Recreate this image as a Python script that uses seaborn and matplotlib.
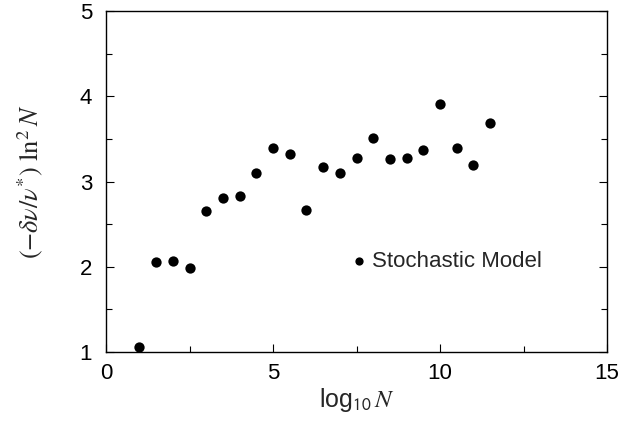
import matplotlib
matplotlib.use("Agg")
import matplotlib.pyplot as plt
import seaborn as sns
import pandas as pd
from matplotlib.ticker import MultipleLocator

# data
log_n = [1.0, 1.5, 2.0, 2.5, 3.0, 3.5, 4.0, 4.5, 5.0, 5.5, 6.0, 6.5,
         7.0, 7.5, 8.0, 8.5, 9.0, 9.5, 10.0, 10.5, 11.0, 11.5]
scaled_shift = [1.06, 2.06, 2.07, 1.98, 2.65, 2.81, 2.83, 3.10, 3.39, 3.32, 2.66, 3.17,
                3.10, 3.27, 3.51, 3.26, 3.27, 3.37, 3.91, 3.39, 3.19, 3.69]

df = pd.DataFrame({"logN": log_n, "shift": scaled_shift})

sns.set_style("white")
plt.rcParams["font.family"] = ["Liberation Sans", "DejaVu Sans"]
plt.rcParams["mathtext.fontset"] = "stix"
plt.rcParams["mathtext.sf"] = "Liberation Sans"

fig = plt.figure(figsize=(6.36, 4.21), dpi=100)
ax = fig.add_axes([106 / 636, 69 / 421, 501 / 636, 341 / 421])

sns.scatterplot(data=df, x="logN", y="shift", color="black", s=55,
                edgecolor="black", linewidth=0, label="Stochastic Model", ax=ax)

ax.set_xlim(0, 15)
ax.set_ylim(1, 5)
ax.xaxis.set_major_locator(MultipleLocator(5))
ax.xaxis.set_minor_locator(MultipleLocator(2.5))
ax.yaxis.set_major_locator(MultipleLocator(1))
ax.yaxis.set_minor_locator(MultipleLocator(0.5))
ax.tick_params(axis="both", which="both", direction="in", labelsize=16,
               colors="black")
ax.tick_params(axis="y", which="both", right=True, left=True, pad=10)
ax.tick_params(axis="x", which="both", bottom=True, top=False, pad=8)
ax.tick_params(which="major", length=6, width=0.8)
ax.tick_params(which="minor", length=4, width=0.8)

for sp in ax.spines.values():
    sp.set_color("black")
    sp.set_linewidth(1.0)

ax.set_xlabel(r"log$_{\mathsf{10}}\,\mathit{N}$", fontsize=18, labelpad=1)
ax.set_ylabel(r"$(-\delta\nu/\nu^{*})\ \mathrm{ln}^{2}\,N$", fontsize=19, labelpad=25)

ax.legend(loc="center left", bbox_to_anchor=(0.456, 0.265), frameon=False,
          fontsize=16, handletextpad=0.0, borderpad=0, markerscale=0.8,
          handlelength=1.2)

fig.savefig("out.png", dpi=100)
